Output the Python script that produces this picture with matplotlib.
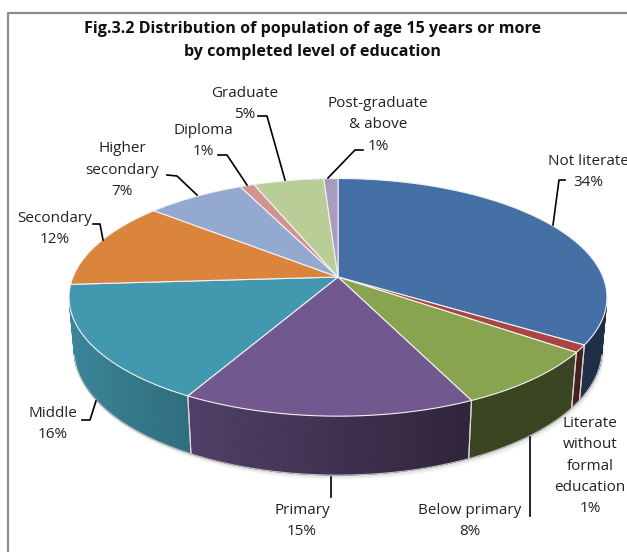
import numpy as np
import matplotlib
matplotlib.use("Agg")
import matplotlib.pyplot as plt
from matplotlib.patches import Polygon
import matplotlib.colors as mcolors

# data, clockwise from 12 o'clock
categories = ["Not literate", "Literate\nwithout\nformal\neducation", "Below primary",
              "Primary", "Middle", "Secondary", "Higher\nsecondary", "Diploma",
              "Graduate", "Post-graduate\n& above"]
shares = [34, 1, 8, 15, 16, 12, 7, 1, 5, 1]
colours = ["#4470A6", "#AB4542", "#88A44E", "#71588F", "#4298AE",
           "#DA843C", "#93A9CF", "#D09392", "#B9CD96", "#A99BBD"]

title = "Fig.3.2 Distribution of population of age 15 years or more\nby completed level of education"

# label block centres and leader lines (pixel space)
label_pos = [(588, 172), (590, 466), (470, 521), (302, 521), (53, 424),
             (55, 229), (122, 170), (203, 141), (245, 104), (378, 125)]
leaders = [
    [(565, 180), (559, 180), (553, 225)],
    None,
    [(530, 437), (530, 516)],
    [(331, 477), (331, 497)],
    [(82, 420), (90, 420), (96, 401)],
    [(93, 224), (100, 224), (103, 240)],
    [(167, 175), (177, 176), (197, 195)],
    [(218, 155), (227, 155), (247, 185)],
    [(258, 116), (267, 116), (285, 180)],
    [(363, 150), (355, 150), (328, 178)],
]

# projection of the 3d disc
CX, CY = 338, 277
SCALE = 265
TILT = np.radians(25.8)
DIST = 5.26
THICK = 0.22
sa, ca = np.sin(TILT), np.cos(TILT)


def project(t_deg, y):
    t = np.radians(t_deg)
    X, Z = np.cos(t), np.sin(t)
    yc = y * ca + Z * sa
    zc = Z * ca - y * sa
    f = DIST / (DIST + zc)
    return CX + SCALE * X * f, CY - SCALE * yc * f


def shade(col, t_deg):
    c = np.cos(np.radians(t_deg))
    k = 0.42 + 0.48 * max(0.0, -c + 0.4) / 1.4
    rgb = np.array(mcolors.to_rgb(col)) * k
    return tuple(np.clip(rgb, 0, 1))


fig = plt.figure(figsize=(6.27, 5.52), dpi=100)
ax = fig.add_axes([0, 0, 1, 1])
ax.set_xlim(0, 627)
ax.set_ylim(552, 0)
ax.axis("off")

font = "Open Sans"

# chart border
ax.plot([8, 8, 627], [552, 13, 13], color="#8c8c8c", lw=1.6, solid_capstyle="butt")

ax.text(313, 40.5, title, ha="center", va="center", fontsize=11.6, fontweight="bold",
        family=font, color="#111111", linespacing=1.6)

cum = np.concatenate([[0], np.cumsum(shares)]) / sum(shares)
bounds = 90 - 360 * cum

# soft shadow under the disc
tt = np.linspace(-200, 20, 200)
bx, by = project(tt, -THICK)
for d in range(1, 6):
    pts = np.column_stack([bx + d * 0.5, by + d * 0.9])
    top_x, top_y = project(tt[::-1], 0)
    pts = np.vstack([pts, np.column_stack([top_x, top_y])])
    ax.add_patch(Polygon(pts, closed=True, facecolor="#777777", alpha=0.05,
                         edgecolor="none", zorder=1))

# side walls
vis = np.degrees(np.arcsin(1 / (DIST * ca)))
lo, hi = -180 + vis, -vis
for i in range(len(shares)):
    a0, a1 = bounds[i + 1], bounds[i]
    s0, s1 = max(a0, lo), min(a1, hi)
    if s1 <= s0:
        continue
    n = max(2, int((s1 - s0) / 1.0) + 1)
    edges = np.linspace(s0, s1, n)
    for e0, e1 in zip(edges[:-1], edges[1:]):
        x0, y0 = project(e0, 0)
        x1, y1 = project(e1, 0)
        x2, y2 = project(e1, -THICK)
        x3, y3 = project(e0, -THICK)
        c = shade(colours[i], (e0 + e1) / 2)
        ax.add_patch(Polygon([(x0, y0), (x1, y1), (x2, y2), (x3, y3)], closed=True,
                             facecolor=c, edgecolor=c, lw=0.6, zorder=2))
    # light seam between slices on the wall
    for b in (a0, a1):
        if lo < b < hi:
            xa, ya = project(b, 0)
            xb, yb = project(b, -THICK)
            ax.plot([xa, xb], [ya, yb], color="#d9d9d9", lw=0.8, zorder=3)

# rim highlight along the bottom edge
rx, ry = project(np.linspace(lo, hi, 200), -THICK)
ax.plot(rx, ry, color="#bfbfbf", lw=0.8, zorder=3)

# top faces
for i in range(len(shares)):
    arc = np.linspace(bounds[i], bounds[i + 1], max(3, int(shares[i] * 4)))
    px, py = project(arc, 0)
    pts = np.vstack([[CX, CY], np.column_stack([px, py])])
    ax.add_patch(Polygon(pts, closed=True, facecolor=colours[i], edgecolor="#f2f2f2",
                         lw=0.8, joinstyle="round", zorder=4))

# labels
for i, name in enumerate(categories):
    x, y = label_pos[i]
    ax.text(x, y, f"{name}\n{shares[i]}%", ha="center", va="center", fontsize=11,
            family=font, color="#222222", linespacing=1.56, zorder=6)
    if leaders[i]:
        lx, ly = zip(*leaders[i])
        ax.plot(lx, ly, color="black", lw=1.2, zorder=5)

fig.savefig("out.png", dpi=100)
